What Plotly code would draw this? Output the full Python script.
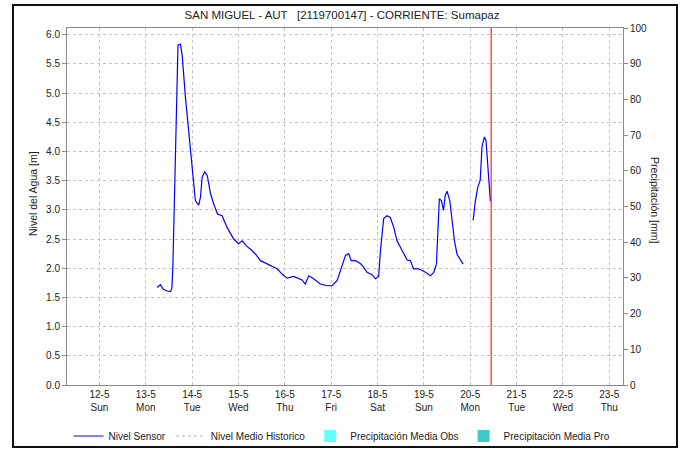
import plotly.graph_objects as go

# ---------------- data ----------------
sensor_time = [
    "2024-05-13 05:55", "2024-05-13 07:35", "2024-05-13 09:05", "2024-05-13 11:10",
    "2024-05-13 12:50", "2024-05-13 13:30", "2024-05-13 14:00", "2024-05-13 14:30",
    "2024-05-13 15:20", "2024-05-13 15:55", "2024-05-13 16:40", "2024-05-13 17:55",
    "2024-05-13 18:50", "2024-05-13 20:30", "2024-05-13 22:10", "2024-05-14 00:00",
    "2024-05-14 01:40", "2024-05-14 03:25", "2024-05-14 04:20", "2024-05-14 05:10",
    "2024-05-14 06:30", "2024-05-14 07:50", "2024-05-14 09:30", "2024-05-14 11:10",
    "2024-05-14 13:10", "2024-05-14 15:30", "2024-05-14 18:05", "2024-05-14 21:30",
    "2024-05-15 00:05", "2024-05-15 01:55", "2024-05-15 04:30", "2024-05-15 06:10",
    "2024-05-15 08:50", "2024-05-15 11:25", "2024-05-15 14:50", "2024-05-15 20:00",
    "2024-05-15 22:35", "2024-05-16 01:10", "2024-05-16 04:35", "2024-05-16 07:10",
    "2024-05-16 08:55", "2024-05-16 10:35", "2024-05-16 12:25", "2024-05-16 14:55",
    "2024-05-16 18:25", "2024-05-16 21:55", "2024-05-17 00:30", "2024-05-17 03:05",
    "2024-05-17 05:35", "2024-05-17 07:25", "2024-05-17 09:05", "2024-05-17 10:20",
    "2024-05-17 12:30", "2024-05-17 15:05", "2024-05-17 16:50", "2024-05-17 18:35",
    "2024-05-17 21:10", "2024-05-17 22:55", "2024-05-18 00:35", "2024-05-18 01:30",
    "2024-05-18 03:10", "2024-05-18 04:55", "2024-05-18 06:35", "2024-05-18 08:25",
    "2024-05-18 10:05", "2024-05-18 12:40", "2024-05-18 15:20", "2024-05-18 17:00",
    "2024-05-18 18:40", "2024-05-18 21:20", "2024-05-18 23:05", "2024-05-19 00:50",
    "2024-05-19 03:25", "2024-05-19 05:05", "2024-05-19 06:30", "2024-05-19 07:05",
    "2024-05-19 08:00", "2024-05-19 09:05", "2024-05-19 10:10", "2024-05-19 11:05",
    "2024-05-19 12:00", "2024-05-19 13:25", "2024-05-19 14:35", "2024-05-19 15:50",
    "2024-05-19 17:10", "2024-05-19 18:55", "2024-05-19 20:20",
    "2024-05-19 23:00",
    "2024-05-20 01:30", "2024-05-20 02:40", "2024-05-20 03:55", "2024-05-20 05:10",
    "2024-05-20 06:05", "2024-05-20 07:20", "2024-05-20 08:10", "2024-05-20 09:00",
    "2024-05-20 09:55", "2024-05-20 10:25",
]
sensor_level = [
    1.67, 1.72, 1.64, 1.61,
    1.60, 1.66, 2.00, 2.79,
    4.02, 4.94, 5.82, 5.84,
    5.65, 4.94, 4.36, 3.68,
    3.16, 3.08, 3.22, 3.56,
    3.65, 3.59, 3.28, 3.10,
    2.93, 2.90, 2.70, 2.50,
    2.42, 2.47, 2.37, 2.33,
    2.24, 2.13, 2.07, 1.99,
    1.90, 1.83, 1.86, 1.82,
    1.80, 1.73, 1.87, 1.82,
    1.73, 1.70, 1.70, 1.79,
    2.02, 2.22, 2.25, 2.13,
    2.13, 2.08, 2.02, 1.93,
    1.89, 1.82, 1.86, 2.30,
    2.85, 2.90, 2.87, 2.70,
    2.47, 2.30, 2.14, 2.13,
    1.99, 1.99, 1.96, 1.93,
    1.87, 1.93, 2.07, 2.59,
    3.19, 3.16, 2.99, 3.25,
    3.32, 3.16, 2.82, 2.47,
    2.24, 2.14, 2.07,
    None,
    2.82, 3.16, 3.39, 3.51,
    4.08, 4.25, 4.19, 3.79,
    3.48, 3.15,
]

# historic mean level and precipitation: no values in this period
historic_time = [None]
historic_level = [None]
precip_obs_time = [None]
precip_obs = [None]
precip_pro_time = [None]
precip_pro = [None]

tick_dates = ["2024-05-%02d" % d for d in range(12, 24)]
tick_day = ["12-5", "13-5", "14-5", "15-5", "16-5", "17-5",
            "18-5", "19-5", "20-5", "21-5", "22-5", "23-5"]
tick_weekday = ["Sun", "Mon", "Tue", "Wed", "Thu", "Fri",
                "Sat", "Sun", "Mon", "Tue", "Wed", "Thu"]
tick_text = [f"{a}<br>{b}" for a, b in zip(tick_day, tick_weekday)]

now_time = "2024-05-20 10:50"
x_range = ["2024-05-11 07:12", "2024-05-23 07:06"]

# ---------------- layout constants ----------------
W, H = 684, 449
ML, MR, MT, MB = 67, 61, 28, 64
PW, PH = W - ML - MR, H - MT - MB
FONT = "Liberation Sans, Arial, sans-serif"
GRID = "#c4c4c4"
AXIS = "#8a8a8a"


def px_x(px):
    return (px - ML) / PW


def px_y(py):
    return (H - MB - py) / PH


fig = go.Figure()

fig.add_trace(go.Scatter(
    x=sensor_time, y=sensor_level, mode="lines", name="Nivel Sensor",
    line=dict(color="#0000ff", width=1.2), connectgaps=False,
))
fig.add_trace(go.Scatter(
    x=historic_time, y=historic_level, mode="lines", name="Nivel Medio Historico",
    line=dict(color="#b0b0b0", width=1.2, dash="3px,3px"),
))
fig.add_trace(go.Bar(
    x=precip_obs_time, y=precip_obs, name="Precipitación Media Obs",
    marker=dict(color="#66ffff", line=dict(width=0)), yaxis="y2",
))
fig.add_trace(go.Bar(
    x=precip_pro_time, y=precip_pro, name="Precipitación Media Pro",
    marker=dict(color="#40c8c8", line=dict(width=0)), yaxis="y2",
))

fig.update_layout(
    width=W, height=H,
    margin=dict(l=ML, r=MR, t=MT, b=MB, pad=0, autoexpand=False),
    paper_bgcolor="white", plot_bgcolor="white",
    font=dict(family=FONT, size=10, color="#222222"),
    showlegend=True,
    legend=dict(
        orientation="h", xref="container", yref="container",
        x=0.5, xanchor="center", y=1 - 436 / H, yanchor="middle",
        font=dict(size=10, color="#222222"), itemwidth=30,
        tracegroupgap=0, bgcolor="rgba(0,0,0,0)",
    ),
    title=dict(
        text="SAN MIGUEL - AUT   [2119700147] - CORRIENTE: Sumapaz",
        xref="container", yref="container", x=0.5, xanchor="center",
        y=1 - 15 / H, yanchor="middle",
        font=dict(family=FONT, size=11.5, color="#222222"),
    ),
    xaxis=dict(
        type="date", range=x_range,
        tickmode="array", tickvals=tick_dates, ticktext=tick_text,
        showgrid=True, gridcolor=GRID, griddash="3px,3px", gridwidth=1,
        showline=True, linecolor=AXIS, linewidth=1, mirror=True,
        ticks="", tickfont=dict(size=10, color="#222222"),
        zeroline=False, automargin=False,
    ),
    yaxis=dict(
        range=[0, 6.115], tickmode="linear", tick0=0, dtick=0.5,
        tickformat=".1f",
        showgrid=True, gridcolor=GRID, griddash="3px,3px", gridwidth=1,
        showline=True, linecolor=AXIS, linewidth=1,
        ticks="outside", ticklen=4, tickcolor=AXIS,
        tickfont=dict(size=10, color="#222222"), zeroline=False,
        automargin=False,
    ),
    yaxis2=dict(
        range=[0, 100], overlaying="y", side="right",
        tickmode="linear", tick0=0, dtick=10,
        showgrid=False, showline=True, linecolor=AXIS, linewidth=1,
        ticks="outside", ticklen=4, tickcolor=AXIS,
        tickfont=dict(size=10, color="#222222"), zeroline=False,
        automargin=False,
    ),
    bargap=0.2,
)

# axis titles
fig.add_annotation(
    text="Nivel del Agua [m]", xref="paper", yref="paper",
    x=px_x(33), y=px_y(194), textangle=-90, showarrow=False,
    font=dict(size=10.5, color="#222222"), xanchor="center", yanchor="middle",
)
fig.add_annotation(
    text="Precipitación [mm]", xref="paper", yref="paper",
    x=px_x(655), y=px_y(200), textangle=90, showarrow=False,
    font=dict(size=10.5, color="#222222"), xanchor="center", yanchor="middle",
)

# current-time marker
fig.add_shape(
    type="line", xref="x", yref="paper", x0=now_time, x1=now_time, y0=0, y1=1,
    line=dict(color="#ff2020", width=1.2), layer="above",
)

# outer frame
fig.add_shape(
    type="rect", xref="paper", yref="paper",
    x0=px_x(13), x1=px_x(677), y0=px_y(447), y1=px_y(5),
    line=dict(color="#111111", width=2), fillcolor="rgba(0,0,0,0)", layer="above",
)

fig.write_html(
    "out.html",
    config={"displayModeBar": False},
    post_script="document.body.style.margin='0';document.body.style.overflow='hidden';",
)
